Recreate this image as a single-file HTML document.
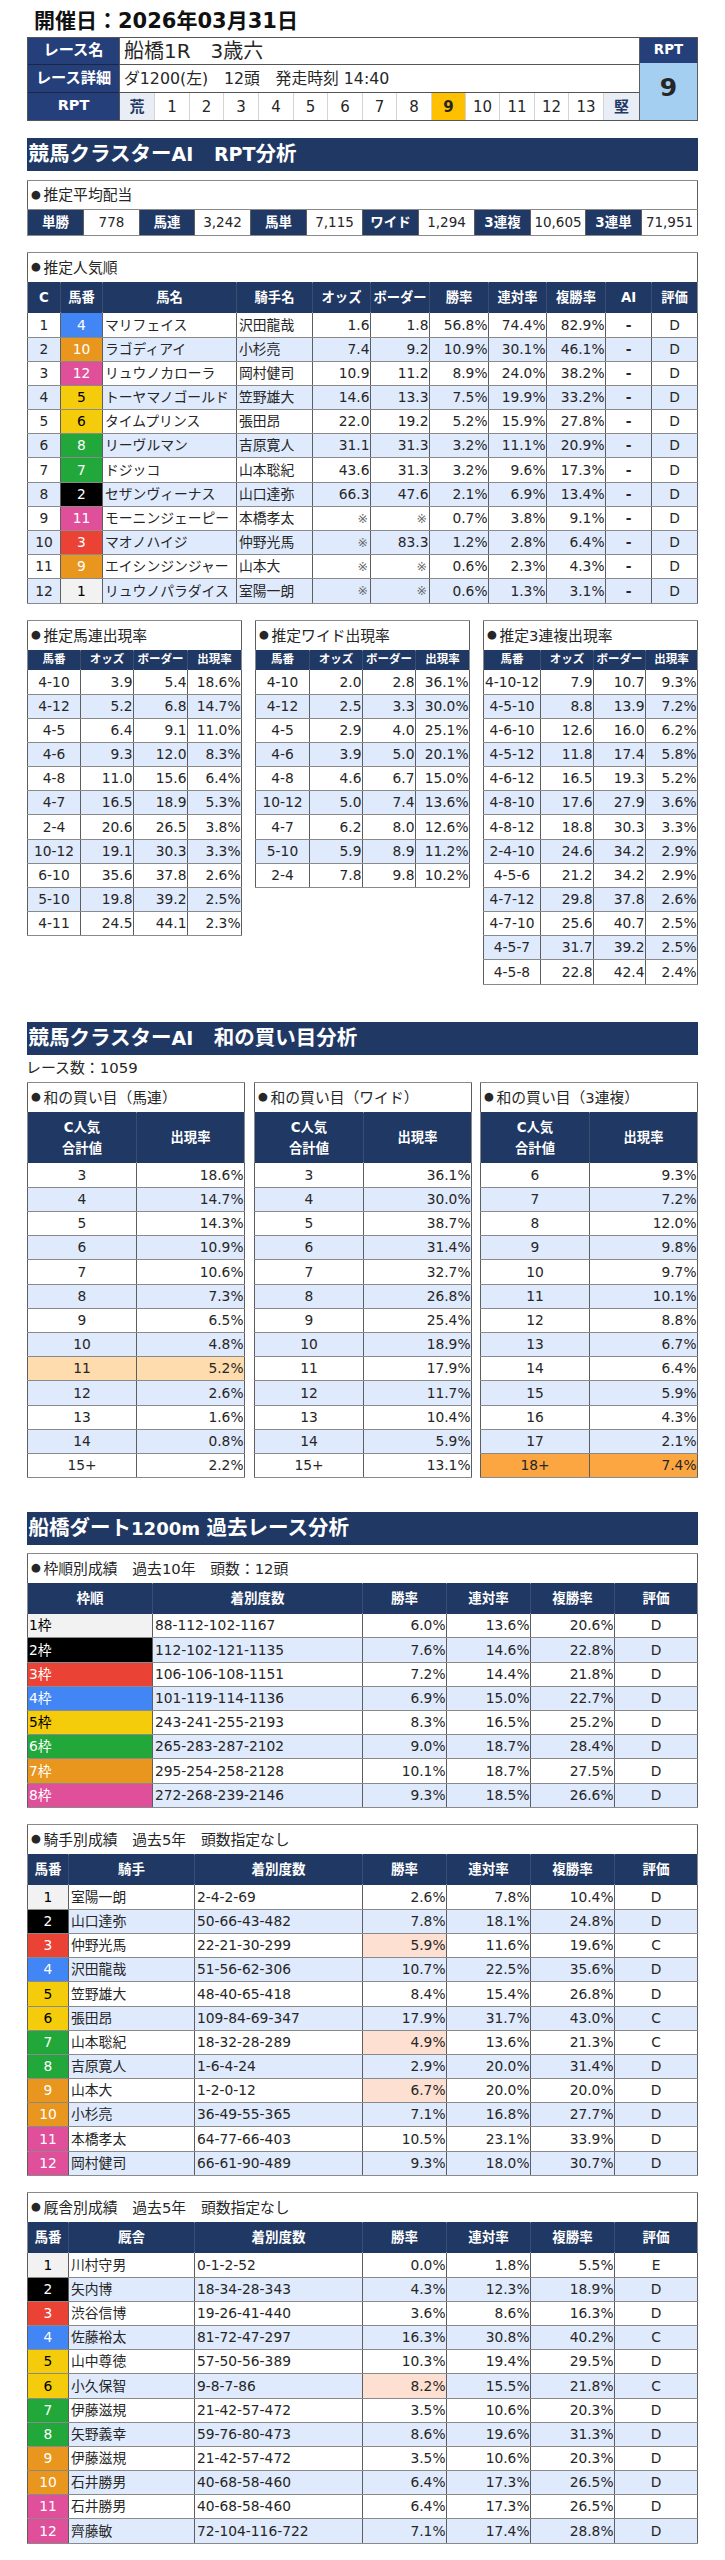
<!DOCTYPE html>
<html lang="ja"><head><meta charset="utf-8"><title>RPT</title>
<style>
html,body{margin:0;padding:0;background:#fff;}
body{width:725px;height:2560px;position:relative;overflow:hidden;font-family:"DejaVu Sans","Liberation Sans","Noto Sans CJK JP",sans-serif;font-size:13.8px;color:#262626;}
.g{position:absolute;display:grid;background:#8a8a8a;padding:1px;gap:1px;box-sizing:content-box;}
.g>div{display:flex;align-items:center;overflow:hidden;white-space:nowrap;line-height:1;box-sizing:border-box;min-width:0;padding-top:1px;}
.g>div:not(.hd):not(.hd2):not(.rp){box-shadow:-1px 0 0 0 #5e5e5e,1px 0 0 0 #5e5e5e;}
.c{justify-content:center;text-align:center;}
.l{justify-content:flex-start;padding-left:2px;}
.r{justify-content:flex-end;padding-right:0.5px;}
.w{background:#fff;}
.b{background:#dfeafc;}
.t{padding-left:3px;font-size:14.8px;}
.bl{display:inline-block;width:12.5px;font-size:11.4px;text-align:left;vertical-align:2.5px;}
.hd{background:#1f3864;color:#fff;font-weight:bold;overflow:visible!important;padding-top:0!important;}
.hd2{background:#243f7a;color:#fff;font-weight:bold;font-size:15.2px;padding-top:0!important;}
.hd{box-shadow:0 1px 0 0 #1f3864,0 -1px 0 0 #1f3864;}
.hs{box-shadow:0 1px 0 0 #1f3864,0 -1px 0 0 #1f3864,1px 0 0 0 #3a4c70;}
.s11{font-size:11.5px;}
.s12{font-size:13.5px;}
.s13{font-size:13.3px;}
.rp{font-size:15px;box-shadow:1px 0 0 0 #d4d4d4;}
.rpe{background:#e9edf6;color:#1f3864;font-weight:bold;}
.rps{background:#ffc000;font-weight:bold;}
.rpv{background:#a4cff0;font-weight:bold;font-size:25px;box-shadow:0 -1px 0 0 #a4cff0;}
.bar{position:absolute;left:27px;width:671px;background:#1f3864;color:#fff;font-weight:bold;font-size:20.5px;line-height:1;display:flex;align-items:center;padding-left:1.5px;box-sizing:border-box;white-space:nowrap;}
.la{font-size:19px;}
.lb{font-size:18.1px;}
.ttl{position:absolute;font-weight:bold;font-size:21px;line-height:30px;white-space:nowrap;color:#111;}
.note{position:absolute;font-size:14.9px;line-height:22px;white-space:nowrap;}
</style></head>
<body>
<div class="ttl" style="left:34px;top:6px;">開催日：2026年03月31日</div>
<div class="g" style="left:27px;top:37px;grid-template-columns:91px 34px 34px 33px 34px 34px 33px 34px 33px 34px 33px 33px 34px 33px 34px 35px 57px;grid-template-rows:26px 27px 27px;background:#555;">
<div class="c hd2" style="grid-column:1;grid-row:1;box-shadow:0 1px 0 0 #1b2545;">レース名</div>
<div class="c hd2" style="grid-column:1;grid-row:2;box-shadow:0 1px 0 0 #1b2545;">レース詳細</div>
<div class="c hd2" style="grid-column:1;grid-row:3;font-size:14.5px;padding-bottom:3px;">RPT</div>
<div class="l w" style="grid-column:2/span 15;grid-row:1/span 1;font-size:20px;padding-left:4px;padding-bottom:2px;">船橋1R　3歳六</div>
<div class="l w" style="grid-column:2/span 15;grid-row:2/span 1;font-size:15.8px;padding-left:4px;padding-bottom:1px;">ダ1200(左)　12頭　発走時刻 14:40</div>
<div class="c rp rpe" style="grid-column:2;grid-row:3;">荒</div>
<div class="c w rp" style="grid-column:3;grid-row:3;">1</div>
<div class="c w rp" style="grid-column:4;grid-row:3;">2</div>
<div class="c w rp" style="grid-column:5;grid-row:3;">3</div>
<div class="c w rp" style="grid-column:6;grid-row:3;">4</div>
<div class="c w rp" style="grid-column:7;grid-row:3;">5</div>
<div class="c w rp" style="grid-column:8;grid-row:3;">6</div>
<div class="c w rp" style="grid-column:9;grid-row:3;">7</div>
<div class="c w rp" style="grid-column:10;grid-row:3;">8</div>
<div class="c rp rps" style="grid-column:11;grid-row:3;">9</div>
<div class="c w rp" style="grid-column:12;grid-row:3;">10</div>
<div class="c w rp" style="grid-column:13;grid-row:3;">11</div>
<div class="c w rp" style="grid-column:14;grid-row:3;">12</div>
<div class="c w rp" style="grid-column:15;grid-row:3;">13</div>
<div class="c rp rpe" style="grid-column:16;grid-row:3;box-shadow:none;">堅</div>
<div class="c hd2" style="grid-column:17;grid-row:1;margin-bottom:1px;padding-bottom:1px;font-size:13.4px;">RPT</div>
<div class="c rpv" style="grid-column:17/span 1;grid-row:2/span 2;margin-top:-2px;padding-bottom:9px;">9</div>
</div>
<div class="bar" style="top:138px;height:33px;"><span>競馬クラスター<span class="la">AI</span>　<span class="la">RPT</span>分析</span></div>
<div class="bar" style="top:1022px;height:33px;"><span>競馬クラスター<span class="la">AI</span>　和の買い目分析</span></div>
<div class="bar" style="top:1512px;height:33px;"><span>船橋ダート<span class="lb">1200m </span>過去レース分析</span></div>
<div class="note" style="left:26px;top:1057px;">レース数：1059</div>
<div class="g" style="left:27px;top:180px;grid-template-columns:55px 55px 54px 55px 55px 55px 55px 55px 55px 54px 55px 55px;grid-template-rows:28px 25px;">
<div class="l w t" style="grid-column:1/span 12;grid-row:1/span 1;"><span><span class="bl">●</span>推定平均配当</span></div>
<div class="c hd s12" style="grid-column:1;grid-row:2;box-shadow:none;">単勝</div>
<div class="c w" style="grid-column:2;grid-row:2;font-size:13.5px;">778</div>
<div class="c hd s12" style="grid-column:3;grid-row:2;box-shadow:none;">馬連</div>
<div class="c w" style="grid-column:4;grid-row:2;font-size:13.5px;">3,242</div>
<div class="c hd s12" style="grid-column:5;grid-row:2;box-shadow:none;">馬単</div>
<div class="c w" style="grid-column:6;grid-row:2;font-size:13.5px;">7,115</div>
<div class="c hd s12" style="grid-column:7;grid-row:2;box-shadow:none;">ワイド</div>
<div class="c w" style="grid-column:8;grid-row:2;font-size:13.5px;">1,294</div>
<div class="c hd s12" style="grid-column:9;grid-row:2;box-shadow:none;">3連複</div>
<div class="c w" style="grid-column:10;grid-row:2;font-size:13.5px;">10,605</div>
<div class="c hd s12" style="grid-column:11;grid-row:2;box-shadow:none;">3連単</div>
<div class="c w" style="grid-column:12;grid-row:2;font-size:13.5px;">71,951</div>
</div>
<div class="g" style="left:27px;top:252px;grid-template-columns:32px 41px 133px 75px 57px 58px 58px 57px 58px 45px 45px;grid-template-rows:29px 29px 24px 23px 23px 23px 23px 23px 24px 23px 23px 23px 23px 24px;">
<div class="l w t" style="grid-column:1/span 11;grid-row:1/span 1;"><span><span class="bl">●</span>推定人気順</span></div>
<div class="c hd s13 hs" style="grid-column:1;grid-row:2;">C</div>
<div class="c hd s13 hs" style="grid-column:2;grid-row:2;">馬番</div>
<div class="c hd s13 hs" style="grid-column:3;grid-row:2;">馬名</div>
<div class="c hd s13 hs" style="grid-column:4;grid-row:2;">騎手名</div>
<div class="c hd s13 hs" style="grid-column:5;grid-row:2;">オッズ</div>
<div class="c hd s13 hs" style="grid-column:6;grid-row:2;">ボーダー</div>
<div class="c hd s13 hs" style="grid-column:7;grid-row:2;">勝率</div>
<div class="c hd s13 hs" style="grid-column:8;grid-row:2;">連対率</div>
<div class="c hd s13 hs" style="grid-column:9;grid-row:2;">複勝率</div>
<div class="c hd s13 hs" style="grid-column:10;grid-row:2;">AI</div>
<div class="c hd s13" style="grid-column:11;grid-row:2;">評価</div>
<div class="c w" style="grid-column:1;grid-row:3;">1</div>
<div class="c" style="grid-column:2;grid-row:3;background:#4285f4;color:#fff;">4</div>
<div class="l w" style="grid-column:3;grid-row:3;">マリフェイス</div>
<div class="l w" style="grid-column:4;grid-row:3;">沢田龍哉</div>
<div class="r w" style="grid-column:5;grid-row:3;">1.6</div>
<div class="r w" style="grid-column:6;grid-row:3;">1.8</div>
<div class="r w" style="grid-column:7;grid-row:3;">56.8%</div>
<div class="r w" style="grid-column:8;grid-row:3;">74.4%</div>
<div class="r w" style="grid-column:9;grid-row:3;">82.9%</div>
<div class="c w" style="grid-column:10;grid-row:3;font-weight:bold;">-</div>
<div class="c w" style="grid-column:11;grid-row:3;">D</div>
<div class="c b" style="grid-column:1;grid-row:4;">2</div>
<div class="c" style="grid-column:2;grid-row:4;background:#e8961e;color:#fff;">10</div>
<div class="l b" style="grid-column:3;grid-row:4;">ラゴディアイ</div>
<div class="l b" style="grid-column:4;grid-row:4;">小杉亮</div>
<div class="r b" style="grid-column:5;grid-row:4;">7.4</div>
<div class="r b" style="grid-column:6;grid-row:4;">9.2</div>
<div class="r b" style="grid-column:7;grid-row:4;">10.9%</div>
<div class="r b" style="grid-column:8;grid-row:4;">30.1%</div>
<div class="r b" style="grid-column:9;grid-row:4;">46.1%</div>
<div class="c b" style="grid-column:10;grid-row:4;font-weight:bold;">-</div>
<div class="c b" style="grid-column:11;grid-row:4;">D</div>
<div class="c w" style="grid-column:1;grid-row:5;">3</div>
<div class="c" style="grid-column:2;grid-row:5;background:#e0509a;color:#fff;">12</div>
<div class="l w" style="grid-column:3;grid-row:5;">リュウノカローラ</div>
<div class="l w" style="grid-column:4;grid-row:5;">岡村健司</div>
<div class="r w" style="grid-column:5;grid-row:5;">10.9</div>
<div class="r w" style="grid-column:6;grid-row:5;">11.2</div>
<div class="r w" style="grid-column:7;grid-row:5;">8.9%</div>
<div class="r w" style="grid-column:8;grid-row:5;">24.0%</div>
<div class="r w" style="grid-column:9;grid-row:5;">38.2%</div>
<div class="c w" style="grid-column:10;grid-row:5;font-weight:bold;">-</div>
<div class="c w" style="grid-column:11;grid-row:5;">D</div>
<div class="c b" style="grid-column:1;grid-row:6;">4</div>
<div class="c" style="grid-column:2;grid-row:6;background:#f4cc0c;color:#000;">5</div>
<div class="l b" style="grid-column:3;grid-row:6;">トーヤマノゴールド</div>
<div class="l b" style="grid-column:4;grid-row:6;">笠野雄大</div>
<div class="r b" style="grid-column:5;grid-row:6;">14.6</div>
<div class="r b" style="grid-column:6;grid-row:6;">13.3</div>
<div class="r b" style="grid-column:7;grid-row:6;">7.5%</div>
<div class="r b" style="grid-column:8;grid-row:6;">19.9%</div>
<div class="r b" style="grid-column:9;grid-row:6;">33.2%</div>
<div class="c b" style="grid-column:10;grid-row:6;font-weight:bold;">-</div>
<div class="c b" style="grid-column:11;grid-row:6;">D</div>
<div class="c w" style="grid-column:1;grid-row:7;">5</div>
<div class="c" style="grid-column:2;grid-row:7;background:#f4cc0c;color:#000;">6</div>
<div class="l w" style="grid-column:3;grid-row:7;">タイムプリンス</div>
<div class="l w" style="grid-column:4;grid-row:7;">張田昂</div>
<div class="r w" style="grid-column:5;grid-row:7;">22.0</div>
<div class="r w" style="grid-column:6;grid-row:7;">19.2</div>
<div class="r w" style="grid-column:7;grid-row:7;">5.2%</div>
<div class="r w" style="grid-column:8;grid-row:7;">15.9%</div>
<div class="r w" style="grid-column:9;grid-row:7;">27.8%</div>
<div class="c w" style="grid-column:10;grid-row:7;font-weight:bold;">-</div>
<div class="c w" style="grid-column:11;grid-row:7;">D</div>
<div class="c b" style="grid-column:1;grid-row:8;">6</div>
<div class="c" style="grid-column:2;grid-row:8;background:#22a83a;color:#fff;">8</div>
<div class="l b" style="grid-column:3;grid-row:8;">リーヴルマン</div>
<div class="l b" style="grid-column:4;grid-row:8;">吉原寛人</div>
<div class="r b" style="grid-column:5;grid-row:8;">31.1</div>
<div class="r b" style="grid-column:6;grid-row:8;">31.3</div>
<div class="r b" style="grid-column:7;grid-row:8;">3.2%</div>
<div class="r b" style="grid-column:8;grid-row:8;">11.1%</div>
<div class="r b" style="grid-column:9;grid-row:8;">20.9%</div>
<div class="c b" style="grid-column:10;grid-row:8;font-weight:bold;">-</div>
<div class="c b" style="grid-column:11;grid-row:8;">D</div>
<div class="c w" style="grid-column:1;grid-row:9;">7</div>
<div class="c" style="grid-column:2;grid-row:9;background:#22a83a;color:#fff;">7</div>
<div class="l w" style="grid-column:3;grid-row:9;">ドジッコ</div>
<div class="l w" style="grid-column:4;grid-row:9;">山本聡紀</div>
<div class="r w" style="grid-column:5;grid-row:9;">43.6</div>
<div class="r w" style="grid-column:6;grid-row:9;">31.3</div>
<div class="r w" style="grid-column:7;grid-row:9;">3.2%</div>
<div class="r w" style="grid-column:8;grid-row:9;">9.6%</div>
<div class="r w" style="grid-column:9;grid-row:9;">17.3%</div>
<div class="c w" style="grid-column:10;grid-row:9;font-weight:bold;">-</div>
<div class="c w" style="grid-column:11;grid-row:9;">D</div>
<div class="c b" style="grid-column:1;grid-row:10;">8</div>
<div class="c" style="grid-column:2;grid-row:10;background:#000;color:#fff;">2</div>
<div class="l b" style="grid-column:3;grid-row:10;">セザンヴィーナス</div>
<div class="l b" style="grid-column:4;grid-row:10;">山口達弥</div>
<div class="r b" style="grid-column:5;grid-row:10;">66.3</div>
<div class="r b" style="grid-column:6;grid-row:10;">47.6</div>
<div class="r b" style="grid-column:7;grid-row:10;">2.1%</div>
<div class="r b" style="grid-column:8;grid-row:10;">6.9%</div>
<div class="r b" style="grid-column:9;grid-row:10;">13.4%</div>
<div class="c b" style="grid-column:10;grid-row:10;font-weight:bold;">-</div>
<div class="c b" style="grid-column:11;grid-row:10;">D</div>
<div class="c w" style="grid-column:1;grid-row:11;">9</div>
<div class="c" style="grid-column:2;grid-row:11;background:#e0509a;color:#fff;">11</div>
<div class="l w" style="grid-column:3;grid-row:11;">モーニンジェーピー</div>
<div class="l w" style="grid-column:4;grid-row:11;">本橋孝太</div>
<div class="r w" style="grid-column:5;grid-row:11;color:#6a6a6a;font-size:12.5px;padding-right:2px;">※</div>
<div class="r w" style="grid-column:6;grid-row:11;color:#6a6a6a;font-size:12.5px;padding-right:2px;">※</div>
<div class="r w" style="grid-column:7;grid-row:11;">0.7%</div>
<div class="r w" style="grid-column:8;grid-row:11;">3.8%</div>
<div class="r w" style="grid-column:9;grid-row:11;">9.1%</div>
<div class="c w" style="grid-column:10;grid-row:11;font-weight:bold;">-</div>
<div class="c w" style="grid-column:11;grid-row:11;">D</div>
<div class="c b" style="grid-column:1;grid-row:12;">10</div>
<div class="c" style="grid-column:2;grid-row:12;background:#ea4335;color:#fff;">3</div>
<div class="l b" style="grid-column:3;grid-row:12;">マオノハイジ</div>
<div class="l b" style="grid-column:4;grid-row:12;">仲野光馬</div>
<div class="r b" style="grid-column:5;grid-row:12;color:#6a6a6a;font-size:12.5px;padding-right:2px;">※</div>
<div class="r b" style="grid-column:6;grid-row:12;">83.3</div>
<div class="r b" style="grid-column:7;grid-row:12;">1.2%</div>
<div class="r b" style="grid-column:8;grid-row:12;">2.8%</div>
<div class="r b" style="grid-column:9;grid-row:12;">6.4%</div>
<div class="c b" style="grid-column:10;grid-row:12;font-weight:bold;">-</div>
<div class="c b" style="grid-column:11;grid-row:12;">D</div>
<div class="c w" style="grid-column:1;grid-row:13;">11</div>
<div class="c" style="grid-column:2;grid-row:13;background:#e8961e;color:#fff;">9</div>
<div class="l w" style="grid-column:3;grid-row:13;">エイシンジンジャー</div>
<div class="l w" style="grid-column:4;grid-row:13;">山本大</div>
<div class="r w" style="grid-column:5;grid-row:13;color:#6a6a6a;font-size:12.5px;padding-right:2px;">※</div>
<div class="r w" style="grid-column:6;grid-row:13;color:#6a6a6a;font-size:12.5px;padding-right:2px;">※</div>
<div class="r w" style="grid-column:7;grid-row:13;">0.6%</div>
<div class="r w" style="grid-column:8;grid-row:13;">2.3%</div>
<div class="r w" style="grid-column:9;grid-row:13;">4.3%</div>
<div class="c w" style="grid-column:10;grid-row:13;font-weight:bold;">-</div>
<div class="c w" style="grid-column:11;grid-row:13;">D</div>
<div class="c b" style="grid-column:1;grid-row:14;">12</div>
<div class="c" style="grid-column:2;grid-row:14;background:#f2f2f2;color:#000;">1</div>
<div class="l b" style="grid-column:3;grid-row:14;">リュウノパラダイス</div>
<div class="l b" style="grid-column:4;grid-row:14;">室陽一朗</div>
<div class="r b" style="grid-column:5;grid-row:14;color:#6a6a6a;font-size:12.5px;padding-right:2px;">※</div>
<div class="r b" style="grid-column:6;grid-row:14;color:#6a6a6a;font-size:12.5px;padding-right:2px;">※</div>
<div class="r b" style="grid-column:7;grid-row:14;">0.6%</div>
<div class="r b" style="grid-column:8;grid-row:14;">1.3%</div>
<div class="r b" style="grid-column:9;grid-row:14;">3.1%</div>
<div class="c b" style="grid-column:10;grid-row:14;font-weight:bold;">-</div>
<div class="c b" style="grid-column:11;grid-row:14;">D</div>
</div>
<div class="g" style="left:27px;top:620px;grid-template-columns:52px 52px 53px 53px;grid-template-rows:29px 18px 24px 23px 23px 23px 23px 23px 24px 23px 23px 23px 23px;">
<div class="l w t" style="grid-column:1/span 4;grid-row:1/span 1;"><span><span class="bl">●</span>推定馬連出現率</span></div>
<div class="c hd s11 hs" style="grid-column:1;grid-row:2;">馬番</div>
<div class="c hd s11 hs" style="grid-column:2;grid-row:2;">オッズ</div>
<div class="c hd s11 hs" style="grid-column:3;grid-row:2;">ボーダー</div>
<div class="c hd s11" style="grid-column:4;grid-row:2;">出現率</div>
<div class="c w" style="grid-column:1;grid-row:3;">4-10</div>
<div class="r w" style="grid-column:2;grid-row:3;">3.9</div>
<div class="r w" style="grid-column:3;grid-row:3;">5.4</div>
<div class="r w" style="grid-column:4;grid-row:3;">18.6%</div>
<div class="c b" style="grid-column:1;grid-row:4;">4-12</div>
<div class="r b" style="grid-column:2;grid-row:4;">5.2</div>
<div class="r b" style="grid-column:3;grid-row:4;">6.8</div>
<div class="r b" style="grid-column:4;grid-row:4;">14.7%</div>
<div class="c w" style="grid-column:1;grid-row:5;">4-5</div>
<div class="r w" style="grid-column:2;grid-row:5;">6.4</div>
<div class="r w" style="grid-column:3;grid-row:5;">9.1</div>
<div class="r w" style="grid-column:4;grid-row:5;">11.0%</div>
<div class="c b" style="grid-column:1;grid-row:6;">4-6</div>
<div class="r b" style="grid-column:2;grid-row:6;">9.3</div>
<div class="r b" style="grid-column:3;grid-row:6;">12.0</div>
<div class="r b" style="grid-column:4;grid-row:6;">8.3%</div>
<div class="c w" style="grid-column:1;grid-row:7;">4-8</div>
<div class="r w" style="grid-column:2;grid-row:7;">11.0</div>
<div class="r w" style="grid-column:3;grid-row:7;">15.6</div>
<div class="r w" style="grid-column:4;grid-row:7;">6.4%</div>
<div class="c b" style="grid-column:1;grid-row:8;">4-7</div>
<div class="r b" style="grid-column:2;grid-row:8;">16.5</div>
<div class="r b" style="grid-column:3;grid-row:8;">18.9</div>
<div class="r b" style="grid-column:4;grid-row:8;">5.3%</div>
<div class="c w" style="grid-column:1;grid-row:9;">2-4</div>
<div class="r w" style="grid-column:2;grid-row:9;">20.6</div>
<div class="r w" style="grid-column:3;grid-row:9;">26.5</div>
<div class="r w" style="grid-column:4;grid-row:9;">3.8%</div>
<div class="c b" style="grid-column:1;grid-row:10;">10-12</div>
<div class="r b" style="grid-column:2;grid-row:10;">19.1</div>
<div class="r b" style="grid-column:3;grid-row:10;">30.3</div>
<div class="r b" style="grid-column:4;grid-row:10;">3.3%</div>
<div class="c w" style="grid-column:1;grid-row:11;">6-10</div>
<div class="r w" style="grid-column:2;grid-row:11;">35.6</div>
<div class="r w" style="grid-column:3;grid-row:11;">37.8</div>
<div class="r w" style="grid-column:4;grid-row:11;">2.6%</div>
<div class="c b" style="grid-column:1;grid-row:12;">5-10</div>
<div class="r b" style="grid-column:2;grid-row:12;">19.8</div>
<div class="r b" style="grid-column:3;grid-row:12;">39.2</div>
<div class="r b" style="grid-column:4;grid-row:12;">2.5%</div>
<div class="c w" style="grid-column:1;grid-row:13;">4-11</div>
<div class="r w" style="grid-column:2;grid-row:13;">24.5</div>
<div class="r w" style="grid-column:3;grid-row:13;">44.1</div>
<div class="r w" style="grid-column:4;grid-row:13;">2.3%</div>
</div>
<div class="g" style="left:255px;top:620px;grid-template-columns:53px 52px 52px 53px;grid-template-rows:29px 18px 24px 23px 23px 23px 23px 23px 24px 23px 23px;">
<div class="l w t" style="grid-column:1/span 4;grid-row:1/span 1;"><span><span class="bl">●</span>推定ワイド出現率</span></div>
<div class="c hd s11 hs" style="grid-column:1;grid-row:2;">馬番</div>
<div class="c hd s11 hs" style="grid-column:2;grid-row:2;">オッズ</div>
<div class="c hd s11 hs" style="grid-column:3;grid-row:2;">ボーダー</div>
<div class="c hd s11" style="grid-column:4;grid-row:2;">出現率</div>
<div class="c w" style="grid-column:1;grid-row:3;">4-10</div>
<div class="r w" style="grid-column:2;grid-row:3;">2.0</div>
<div class="r w" style="grid-column:3;grid-row:3;">2.8</div>
<div class="r w" style="grid-column:4;grid-row:3;">36.1%</div>
<div class="c b" style="grid-column:1;grid-row:4;">4-12</div>
<div class="r b" style="grid-column:2;grid-row:4;">2.5</div>
<div class="r b" style="grid-column:3;grid-row:4;">3.3</div>
<div class="r b" style="grid-column:4;grid-row:4;">30.0%</div>
<div class="c w" style="grid-column:1;grid-row:5;">4-5</div>
<div class="r w" style="grid-column:2;grid-row:5;">2.9</div>
<div class="r w" style="grid-column:3;grid-row:5;">4.0</div>
<div class="r w" style="grid-column:4;grid-row:5;">25.1%</div>
<div class="c b" style="grid-column:1;grid-row:6;">4-6</div>
<div class="r b" style="grid-column:2;grid-row:6;">3.9</div>
<div class="r b" style="grid-column:3;grid-row:6;">5.0</div>
<div class="r b" style="grid-column:4;grid-row:6;">20.1%</div>
<div class="c w" style="grid-column:1;grid-row:7;">4-8</div>
<div class="r w" style="grid-column:2;grid-row:7;">4.6</div>
<div class="r w" style="grid-column:3;grid-row:7;">6.7</div>
<div class="r w" style="grid-column:4;grid-row:7;">15.0%</div>
<div class="c b" style="grid-column:1;grid-row:8;">10-12</div>
<div class="r b" style="grid-column:2;grid-row:8;">5.0</div>
<div class="r b" style="grid-column:3;grid-row:8;">7.4</div>
<div class="r b" style="grid-column:4;grid-row:8;">13.6%</div>
<div class="c w" style="grid-column:1;grid-row:9;">4-7</div>
<div class="r w" style="grid-column:2;grid-row:9;">6.2</div>
<div class="r w" style="grid-column:3;grid-row:9;">8.0</div>
<div class="r w" style="grid-column:4;grid-row:9;">12.6%</div>
<div class="c b" style="grid-column:1;grid-row:10;">5-10</div>
<div class="r b" style="grid-column:2;grid-row:10;">5.9</div>
<div class="r b" style="grid-column:3;grid-row:10;">8.9</div>
<div class="r b" style="grid-column:4;grid-row:10;">11.2%</div>
<div class="c w" style="grid-column:1;grid-row:11;">2-4</div>
<div class="r w" style="grid-column:2;grid-row:11;">7.8</div>
<div class="r w" style="grid-column:3;grid-row:11;">9.8</div>
<div class="r w" style="grid-column:4;grid-row:11;">10.2%</div>
</div>
<div class="g" style="left:483px;top:620px;grid-template-columns:56px 52px 51px 51px;grid-template-rows:29px 18px 24px 23px 23px 23px 23px 23px 24px 23px 23px 23px 23px 23px 24px;">
<div class="l w t" style="grid-column:1/span 4;grid-row:1/span 1;"><span><span class="bl">●</span>推定3連複出現率</span></div>
<div class="c hd s11 hs" style="grid-column:1;grid-row:2;">馬番</div>
<div class="c hd s11 hs" style="grid-column:2;grid-row:2;">オッズ</div>
<div class="c hd s11 hs" style="grid-column:3;grid-row:2;">ボーダー</div>
<div class="c hd s11" style="grid-column:4;grid-row:2;">出現率</div>
<div class="c w" style="grid-column:1;grid-row:3;">4-10-12</div>
<div class="r w" style="grid-column:2;grid-row:3;">7.9</div>
<div class="r w" style="grid-column:3;grid-row:3;">10.7</div>
<div class="r w" style="grid-column:4;grid-row:3;">9.3%</div>
<div class="c b" style="grid-column:1;grid-row:4;">4-5-10</div>
<div class="r b" style="grid-column:2;grid-row:4;">8.8</div>
<div class="r b" style="grid-column:3;grid-row:4;">13.9</div>
<div class="r b" style="grid-column:4;grid-row:4;">7.2%</div>
<div class="c w" style="grid-column:1;grid-row:5;">4-6-10</div>
<div class="r w" style="grid-column:2;grid-row:5;">12.6</div>
<div class="r w" style="grid-column:3;grid-row:5;">16.0</div>
<div class="r w" style="grid-column:4;grid-row:5;">6.2%</div>
<div class="c b" style="grid-column:1;grid-row:6;">4-5-12</div>
<div class="r b" style="grid-column:2;grid-row:6;">11.8</div>
<div class="r b" style="grid-column:3;grid-row:6;">17.4</div>
<div class="r b" style="grid-column:4;grid-row:6;">5.8%</div>
<div class="c w" style="grid-column:1;grid-row:7;">4-6-12</div>
<div class="r w" style="grid-column:2;grid-row:7;">16.5</div>
<div class="r w" style="grid-column:3;grid-row:7;">19.3</div>
<div class="r w" style="grid-column:4;grid-row:7;">5.2%</div>
<div class="c b" style="grid-column:1;grid-row:8;">4-8-10</div>
<div class="r b" style="grid-column:2;grid-row:8;">17.6</div>
<div class="r b" style="grid-column:3;grid-row:8;">27.9</div>
<div class="r b" style="grid-column:4;grid-row:8;">3.6%</div>
<div class="c w" style="grid-column:1;grid-row:9;">4-8-12</div>
<div class="r w" style="grid-column:2;grid-row:9;">18.8</div>
<div class="r w" style="grid-column:3;grid-row:9;">30.3</div>
<div class="r w" style="grid-column:4;grid-row:9;">3.3%</div>
<div class="c b" style="grid-column:1;grid-row:10;">2-4-10</div>
<div class="r b" style="grid-column:2;grid-row:10;">24.6</div>
<div class="r b" style="grid-column:3;grid-row:10;">34.2</div>
<div class="r b" style="grid-column:4;grid-row:10;">2.9%</div>
<div class="c w" style="grid-column:1;grid-row:11;">4-5-6</div>
<div class="r w" style="grid-column:2;grid-row:11;">21.2</div>
<div class="r w" style="grid-column:3;grid-row:11;">34.2</div>
<div class="r w" style="grid-column:4;grid-row:11;">2.9%</div>
<div class="c b" style="grid-column:1;grid-row:12;">4-7-12</div>
<div class="r b" style="grid-column:2;grid-row:12;">29.8</div>
<div class="r b" style="grid-column:3;grid-row:12;">37.8</div>
<div class="r b" style="grid-column:4;grid-row:12;">2.6%</div>
<div class="c w" style="grid-column:1;grid-row:13;">4-7-10</div>
<div class="r w" style="grid-column:2;grid-row:13;">25.6</div>
<div class="r w" style="grid-column:3;grid-row:13;">40.7</div>
<div class="r w" style="grid-column:4;grid-row:13;">2.5%</div>
<div class="c b" style="grid-column:1;grid-row:14;">4-5-7</div>
<div class="r b" style="grid-column:2;grid-row:14;">31.7</div>
<div class="r b" style="grid-column:3;grid-row:14;">39.2</div>
<div class="r b" style="grid-column:4;grid-row:14;">2.5%</div>
<div class="c w" style="grid-column:1;grid-row:15;">4-5-8</div>
<div class="r w" style="grid-column:2;grid-row:15;">22.8</div>
<div class="r w" style="grid-column:3;grid-row:15;">42.4</div>
<div class="r w" style="grid-column:4;grid-row:15;">2.4%</div>
</div>
<div class="g" style="left:27px;top:1082px;grid-template-columns:108px 107px;grid-template-rows:29px 49px 24px 23px 23px 23px 24px 23px 23px 23px 23px 24px 23px 23px 23px;">
<div class="l w t" style="grid-column:1/span 2;grid-row:1/span 1;"><span><span class="bl">●</span>和の買い目（馬連）</span></div>
<div class="c hd s13 hs" style="grid-column:1;grid-row:2;line-height:21px;"><span>C人気<br>合計値</span></div>
<div class="c hd s13" style="grid-column:2;grid-row:2;">出現率</div>
<div class="c w" style="grid-column:1;grid-row:3;">3</div>
<div class="r w" style="grid-column:2;grid-row:3;">18.6%</div>
<div class="c b" style="grid-column:1;grid-row:4;">4</div>
<div class="r b" style="grid-column:2;grid-row:4;">14.7%</div>
<div class="c w" style="grid-column:1;grid-row:5;">5</div>
<div class="r w" style="grid-column:2;grid-row:5;">14.3%</div>
<div class="c b" style="grid-column:1;grid-row:6;">6</div>
<div class="r b" style="grid-column:2;grid-row:6;">10.9%</div>
<div class="c w" style="grid-column:1;grid-row:7;">7</div>
<div class="r w" style="grid-column:2;grid-row:7;">10.6%</div>
<div class="c b" style="grid-column:1;grid-row:8;">8</div>
<div class="r b" style="grid-column:2;grid-row:8;">7.3%</div>
<div class="c w" style="grid-column:1;grid-row:9;">9</div>
<div class="r w" style="grid-column:2;grid-row:9;">6.5%</div>
<div class="c b" style="grid-column:1;grid-row:10;">10</div>
<div class="r b" style="grid-column:2;grid-row:10;">4.8%</div>
<div class="c w" style="grid-column:1;grid-row:11;background:#fedcae;">11</div>
<div class="r w" style="grid-column:2;grid-row:11;background:#fedcae;">5.2%</div>
<div class="c b" style="grid-column:1;grid-row:12;">12</div>
<div class="r b" style="grid-column:2;grid-row:12;">2.6%</div>
<div class="c w" style="grid-column:1;grid-row:13;">13</div>
<div class="r w" style="grid-column:2;grid-row:13;">1.6%</div>
<div class="c b" style="grid-column:1;grid-row:14;">14</div>
<div class="r b" style="grid-column:2;grid-row:14;">0.8%</div>
<div class="c w" style="grid-column:1;grid-row:15;">15+</div>
<div class="r w" style="grid-column:2;grid-row:15;">2.2%</div>
</div>
<div class="g" style="left:254px;top:1082px;grid-template-columns:108px 107px;grid-template-rows:29px 49px 24px 23px 23px 23px 24px 23px 23px 23px 23px 24px 23px 23px 23px;">
<div class="l w t" style="grid-column:1/span 2;grid-row:1/span 1;"><span><span class="bl">●</span>和の買い目（ワイド）</span></div>
<div class="c hd s13 hs" style="grid-column:1;grid-row:2;line-height:21px;"><span>C人気<br>合計値</span></div>
<div class="c hd s13" style="grid-column:2;grid-row:2;">出現率</div>
<div class="c w" style="grid-column:1;grid-row:3;">3</div>
<div class="r w" style="grid-column:2;grid-row:3;">36.1%</div>
<div class="c b" style="grid-column:1;grid-row:4;">4</div>
<div class="r b" style="grid-column:2;grid-row:4;">30.0%</div>
<div class="c w" style="grid-column:1;grid-row:5;">5</div>
<div class="r w" style="grid-column:2;grid-row:5;">38.7%</div>
<div class="c b" style="grid-column:1;grid-row:6;">6</div>
<div class="r b" style="grid-column:2;grid-row:6;">31.4%</div>
<div class="c w" style="grid-column:1;grid-row:7;">7</div>
<div class="r w" style="grid-column:2;grid-row:7;">32.7%</div>
<div class="c b" style="grid-column:1;grid-row:8;">8</div>
<div class="r b" style="grid-column:2;grid-row:8;">26.8%</div>
<div class="c w" style="grid-column:1;grid-row:9;">9</div>
<div class="r w" style="grid-column:2;grid-row:9;">25.4%</div>
<div class="c b" style="grid-column:1;grid-row:10;">10</div>
<div class="r b" style="grid-column:2;grid-row:10;">18.9%</div>
<div class="c w" style="grid-column:1;grid-row:11;">11</div>
<div class="r w" style="grid-column:2;grid-row:11;">17.9%</div>
<div class="c b" style="grid-column:1;grid-row:12;">12</div>
<div class="r b" style="grid-column:2;grid-row:12;">11.7%</div>
<div class="c w" style="grid-column:1;grid-row:13;">13</div>
<div class="r w" style="grid-column:2;grid-row:13;">10.4%</div>
<div class="c b" style="grid-column:1;grid-row:14;">14</div>
<div class="r b" style="grid-column:2;grid-row:14;">5.9%</div>
<div class="c w" style="grid-column:1;grid-row:15;">15+</div>
<div class="r w" style="grid-column:2;grid-row:15;">13.1%</div>
</div>
<div class="g" style="left:480px;top:1082px;grid-template-columns:108px 107px;grid-template-rows:29px 49px 24px 23px 23px 23px 24px 23px 23px 23px 23px 24px 23px 23px 23px;">
<div class="l w t" style="grid-column:1/span 2;grid-row:1/span 1;"><span><span class="bl">●</span>和の買い目（3連複）</span></div>
<div class="c hd s13 hs" style="grid-column:1;grid-row:2;line-height:21px;"><span>C人気<br>合計値</span></div>
<div class="c hd s13" style="grid-column:2;grid-row:2;">出現率</div>
<div class="c w" style="grid-column:1;grid-row:3;">6</div>
<div class="r w" style="grid-column:2;grid-row:3;">9.3%</div>
<div class="c b" style="grid-column:1;grid-row:4;">7</div>
<div class="r b" style="grid-column:2;grid-row:4;">7.2%</div>
<div class="c w" style="grid-column:1;grid-row:5;">8</div>
<div class="r w" style="grid-column:2;grid-row:5;">12.0%</div>
<div class="c b" style="grid-column:1;grid-row:6;">9</div>
<div class="r b" style="grid-column:2;grid-row:6;">9.8%</div>
<div class="c w" style="grid-column:1;grid-row:7;">10</div>
<div class="r w" style="grid-column:2;grid-row:7;">9.7%</div>
<div class="c b" style="grid-column:1;grid-row:8;">11</div>
<div class="r b" style="grid-column:2;grid-row:8;">10.1%</div>
<div class="c w" style="grid-column:1;grid-row:9;">12</div>
<div class="r w" style="grid-column:2;grid-row:9;">8.8%</div>
<div class="c b" style="grid-column:1;grid-row:10;">13</div>
<div class="r b" style="grid-column:2;grid-row:10;">6.7%</div>
<div class="c w" style="grid-column:1;grid-row:11;">14</div>
<div class="r w" style="grid-column:2;grid-row:11;">6.4%</div>
<div class="c b" style="grid-column:1;grid-row:12;">15</div>
<div class="r b" style="grid-column:2;grid-row:12;">5.9%</div>
<div class="c w" style="grid-column:1;grid-row:13;">16</div>
<div class="r w" style="grid-column:2;grid-row:13;">4.3%</div>
<div class="c b" style="grid-column:1;grid-row:14;">17</div>
<div class="r b" style="grid-column:2;grid-row:14;">2.1%</div>
<div class="c w" style="grid-column:1;grid-row:15;background:#fba640;">18+</div>
<div class="r w" style="grid-column:2;grid-row:15;background:#fba640;">7.4%</div>
</div>
<div class="g" style="left:27px;top:1553px;grid-template-columns:124px 209px 83px 83px 83px 82px;grid-template-rows:29px 29px 23px 24px 23px 23px 23px 23px 24px 23px;">
<div class="l w t" style="grid-column:1/span 6;grid-row:1/span 1;"><span><span class="bl">●</span>枠順別成績　過去10年　頭数：12頭</span></div>
<div class="c hd s12 hs" style="grid-column:1;grid-row:2;">枠順</div>
<div class="c hd s12 hs" style="grid-column:2;grid-row:2;">着別度数</div>
<div class="c hd s12 hs" style="grid-column:3;grid-row:2;">勝率</div>
<div class="c hd s12 hs" style="grid-column:4;grid-row:2;">連対率</div>
<div class="c hd s12 hs" style="grid-column:5;grid-row:2;">複勝率</div>
<div class="c hd s12" style="grid-column:6;grid-row:2;">評価</div>
<div class="l" style="grid-column:1;grid-row:3;background:#f2f2f2;color:#000;padding-left:1px;">1枠</div>
<div class="l w" style="grid-column:2;grid-row:3;">88-112-102-1167</div>
<div class="r w" style="grid-column:3;grid-row:3;">6.0%</div>
<div class="r w" style="grid-column:4;grid-row:3;">13.6%</div>
<div class="r w" style="grid-column:5;grid-row:3;">20.6%</div>
<div class="c w" style="grid-column:6;grid-row:3;">D</div>
<div class="l" style="grid-column:1;grid-row:4;background:#000;color:#fff;padding-left:1px;">2枠</div>
<div class="l b" style="grid-column:2;grid-row:4;">112-102-121-1135</div>
<div class="r b" style="grid-column:3;grid-row:4;">7.6%</div>
<div class="r b" style="grid-column:4;grid-row:4;">14.6%</div>
<div class="r b" style="grid-column:5;grid-row:4;">22.8%</div>
<div class="c b" style="grid-column:6;grid-row:4;">D</div>
<div class="l" style="grid-column:1;grid-row:5;background:#ea4335;color:#fff;padding-left:1px;">3枠</div>
<div class="l w" style="grid-column:2;grid-row:5;">106-106-108-1151</div>
<div class="r w" style="grid-column:3;grid-row:5;">7.2%</div>
<div class="r w" style="grid-column:4;grid-row:5;">14.4%</div>
<div class="r w" style="grid-column:5;grid-row:5;">21.8%</div>
<div class="c w" style="grid-column:6;grid-row:5;">D</div>
<div class="l" style="grid-column:1;grid-row:6;background:#4285f4;color:#fff;padding-left:1px;">4枠</div>
<div class="l b" style="grid-column:2;grid-row:6;">101-119-114-1136</div>
<div class="r b" style="grid-column:3;grid-row:6;">6.9%</div>
<div class="r b" style="grid-column:4;grid-row:6;">15.0%</div>
<div class="r b" style="grid-column:5;grid-row:6;">22.7%</div>
<div class="c b" style="grid-column:6;grid-row:6;">D</div>
<div class="l" style="grid-column:1;grid-row:7;background:#f4cc0c;color:#000;padding-left:1px;">5枠</div>
<div class="l w" style="grid-column:2;grid-row:7;">243-241-255-2193</div>
<div class="r w" style="grid-column:3;grid-row:7;">8.3%</div>
<div class="r w" style="grid-column:4;grid-row:7;">16.5%</div>
<div class="r w" style="grid-column:5;grid-row:7;">25.2%</div>
<div class="c w" style="grid-column:6;grid-row:7;">D</div>
<div class="l" style="grid-column:1;grid-row:8;background:#22a83a;color:#fff;padding-left:1px;">6枠</div>
<div class="l b" style="grid-column:2;grid-row:8;">265-283-287-2102</div>
<div class="r b" style="grid-column:3;grid-row:8;">9.0%</div>
<div class="r b" style="grid-column:4;grid-row:8;">18.7%</div>
<div class="r b" style="grid-column:5;grid-row:8;">28.4%</div>
<div class="c b" style="grid-column:6;grid-row:8;">D</div>
<div class="l" style="grid-column:1;grid-row:9;background:#e8961e;color:#fff;padding-left:1px;">7枠</div>
<div class="l w" style="grid-column:2;grid-row:9;">295-254-258-2128</div>
<div class="r w" style="grid-column:3;grid-row:9;">10.1%</div>
<div class="r w" style="grid-column:4;grid-row:9;">18.7%</div>
<div class="r w" style="grid-column:5;grid-row:9;">27.5%</div>
<div class="c w" style="grid-column:6;grid-row:9;">D</div>
<div class="l" style="grid-column:1;grid-row:10;background:#e0509a;color:#fff;padding-left:1px;">8枠</div>
<div class="l b" style="grid-column:2;grid-row:10;">272-268-239-2146</div>
<div class="r b" style="grid-column:3;grid-row:10;">9.3%</div>
<div class="r b" style="grid-column:4;grid-row:10;">18.5%</div>
<div class="r b" style="grid-column:5;grid-row:10;">26.6%</div>
<div class="c b" style="grid-column:6;grid-row:10;">D</div>
</div>
<div class="g" style="left:27px;top:1824px;grid-template-columns:40px 125px 167px 83px 83px 83px 82px;grid-template-rows:29px 29px 24px 23px 23px 23px 24px 23px 23px 23px 23px 23px 24px 23px;">
<div class="l w t" style="grid-column:1/span 7;grid-row:1/span 1;"><span><span class="bl">●</span>騎手別成績　過去5年　頭数指定なし</span></div>
<div class="c hd s12 hs" style="grid-column:1;grid-row:2;">馬番</div>
<div class="c hd s12 hs" style="grid-column:2;grid-row:2;">騎手</div>
<div class="c hd s12 hs" style="grid-column:3;grid-row:2;">着別度数</div>
<div class="c hd s12 hs" style="grid-column:4;grid-row:2;">勝率</div>
<div class="c hd s12 hs" style="grid-column:5;grid-row:2;">連対率</div>
<div class="c hd s12 hs" style="grid-column:6;grid-row:2;">複勝率</div>
<div class="c hd s12" style="grid-column:7;grid-row:2;">評価</div>
<div class="c" style="grid-column:1;grid-row:3;background:#f2f2f2;color:#000;">1</div>
<div class="l w" style="grid-column:2;grid-row:3;">室陽一朗</div>
<div class="l w" style="grid-column:3;grid-row:3;">2-4-2-69</div>
<div class="r w" style="grid-column:4;grid-row:3;">2.6%</div>
<div class="r w" style="grid-column:5;grid-row:3;">7.8%</div>
<div class="r w" style="grid-column:6;grid-row:3;">10.4%</div>
<div class="c w" style="grid-column:7;grid-row:3;">D</div>
<div class="c" style="grid-column:1;grid-row:4;background:#000;color:#fff;">2</div>
<div class="l b" style="grid-column:2;grid-row:4;">山口達弥</div>
<div class="l b" style="grid-column:3;grid-row:4;">50-66-43-482</div>
<div class="r b" style="grid-column:4;grid-row:4;">7.8%</div>
<div class="r b" style="grid-column:5;grid-row:4;">18.1%</div>
<div class="r b" style="grid-column:6;grid-row:4;">24.8%</div>
<div class="c b" style="grid-column:7;grid-row:4;">D</div>
<div class="c" style="grid-column:1;grid-row:5;background:#ea4335;color:#fff;">3</div>
<div class="l w" style="grid-column:2;grid-row:5;">仲野光馬</div>
<div class="l w" style="grid-column:3;grid-row:5;">22-21-30-299</div>
<div class="r w" style="grid-column:4;grid-row:5;background:#fde0d1;">5.9%</div>
<div class="r w" style="grid-column:5;grid-row:5;">11.6%</div>
<div class="r w" style="grid-column:6;grid-row:5;">19.6%</div>
<div class="c w" style="grid-column:7;grid-row:5;">C</div>
<div class="c" style="grid-column:1;grid-row:6;background:#4285f4;color:#fff;">4</div>
<div class="l b" style="grid-column:2;grid-row:6;">沢田龍哉</div>
<div class="l b" style="grid-column:3;grid-row:6;">51-56-62-306</div>
<div class="r b" style="grid-column:4;grid-row:6;">10.7%</div>
<div class="r b" style="grid-column:5;grid-row:6;">22.5%</div>
<div class="r b" style="grid-column:6;grid-row:6;">35.6%</div>
<div class="c b" style="grid-column:7;grid-row:6;">D</div>
<div class="c" style="grid-column:1;grid-row:7;background:#f4cc0c;color:#000;">5</div>
<div class="l w" style="grid-column:2;grid-row:7;">笠野雄大</div>
<div class="l w" style="grid-column:3;grid-row:7;">48-40-65-418</div>
<div class="r w" style="grid-column:4;grid-row:7;">8.4%</div>
<div class="r w" style="grid-column:5;grid-row:7;">15.4%</div>
<div class="r w" style="grid-column:6;grid-row:7;">26.8%</div>
<div class="c w" style="grid-column:7;grid-row:7;">D</div>
<div class="c" style="grid-column:1;grid-row:8;background:#f4cc0c;color:#000;">6</div>
<div class="l b" style="grid-column:2;grid-row:8;">張田昂</div>
<div class="l b" style="grid-column:3;grid-row:8;">109-84-69-347</div>
<div class="r b" style="grid-column:4;grid-row:8;">17.9%</div>
<div class="r b" style="grid-column:5;grid-row:8;">31.7%</div>
<div class="r b" style="grid-column:6;grid-row:8;">43.0%</div>
<div class="c b" style="grid-column:7;grid-row:8;">C</div>
<div class="c" style="grid-column:1;grid-row:9;background:#22a83a;color:#fff;">7</div>
<div class="l w" style="grid-column:2;grid-row:9;">山本聡紀</div>
<div class="l w" style="grid-column:3;grid-row:9;">18-32-28-289</div>
<div class="r w" style="grid-column:4;grid-row:9;background:#fde0d1;">4.9%</div>
<div class="r w" style="grid-column:5;grid-row:9;">13.6%</div>
<div class="r w" style="grid-column:6;grid-row:9;">21.3%</div>
<div class="c w" style="grid-column:7;grid-row:9;">C</div>
<div class="c" style="grid-column:1;grid-row:10;background:#22a83a;color:#fff;">8</div>
<div class="l b" style="grid-column:2;grid-row:10;">吉原寛人</div>
<div class="l b" style="grid-column:3;grid-row:10;">1-6-4-24</div>
<div class="r b" style="grid-column:4;grid-row:10;">2.9%</div>
<div class="r b" style="grid-column:5;grid-row:10;">20.0%</div>
<div class="r b" style="grid-column:6;grid-row:10;">31.4%</div>
<div class="c b" style="grid-column:7;grid-row:10;">D</div>
<div class="c" style="grid-column:1;grid-row:11;background:#e8961e;color:#fff;">9</div>
<div class="l w" style="grid-column:2;grid-row:11;">山本大</div>
<div class="l w" style="grid-column:3;grid-row:11;">1-2-0-12</div>
<div class="r w" style="grid-column:4;grid-row:11;background:#fde0d1;">6.7%</div>
<div class="r w" style="grid-column:5;grid-row:11;">20.0%</div>
<div class="r w" style="grid-column:6;grid-row:11;">20.0%</div>
<div class="c w" style="grid-column:7;grid-row:11;">D</div>
<div class="c" style="grid-column:1;grid-row:12;background:#e8961e;color:#fff;">10</div>
<div class="l b" style="grid-column:2;grid-row:12;">小杉亮</div>
<div class="l b" style="grid-column:3;grid-row:12;">36-49-55-365</div>
<div class="r b" style="grid-column:4;grid-row:12;">7.1%</div>
<div class="r b" style="grid-column:5;grid-row:12;">16.8%</div>
<div class="r b" style="grid-column:6;grid-row:12;">27.7%</div>
<div class="c b" style="grid-column:7;grid-row:12;">D</div>
<div class="c" style="grid-column:1;grid-row:13;background:#e0509a;color:#fff;">11</div>
<div class="l w" style="grid-column:2;grid-row:13;">本橋孝太</div>
<div class="l w" style="grid-column:3;grid-row:13;">64-77-66-403</div>
<div class="r w" style="grid-column:4;grid-row:13;">10.5%</div>
<div class="r w" style="grid-column:5;grid-row:13;">23.1%</div>
<div class="r w" style="grid-column:6;grid-row:13;">33.9%</div>
<div class="c w" style="grid-column:7;grid-row:13;">D</div>
<div class="c" style="grid-column:1;grid-row:14;background:#e0509a;color:#fff;">12</div>
<div class="l b" style="grid-column:2;grid-row:14;">岡村健司</div>
<div class="l b" style="grid-column:3;grid-row:14;">66-61-90-489</div>
<div class="r b" style="grid-column:4;grid-row:14;">9.3%</div>
<div class="r b" style="grid-column:5;grid-row:14;">18.0%</div>
<div class="r b" style="grid-column:6;grid-row:14;">30.7%</div>
<div class="c b" style="grid-column:7;grid-row:14;">D</div>
</div>
<div class="g" style="left:27px;top:2192px;grid-template-columns:40px 125px 167px 83px 83px 83px 82px;grid-template-rows:29px 29px 24px 23px 23px 23px 23px 24px 23px 23px 23px 23px 23px 24px;">
<div class="l w t" style="grid-column:1/span 7;grid-row:1/span 1;"><span><span class="bl">●</span>厩舎別成績　過去5年　頭数指定なし</span></div>
<div class="c hd s12 hs" style="grid-column:1;grid-row:2;">馬番</div>
<div class="c hd s12 hs" style="grid-column:2;grid-row:2;">厩舎</div>
<div class="c hd s12 hs" style="grid-column:3;grid-row:2;">着別度数</div>
<div class="c hd s12 hs" style="grid-column:4;grid-row:2;">勝率</div>
<div class="c hd s12 hs" style="grid-column:5;grid-row:2;">連対率</div>
<div class="c hd s12 hs" style="grid-column:6;grid-row:2;">複勝率</div>
<div class="c hd s12" style="grid-column:7;grid-row:2;">評価</div>
<div class="c" style="grid-column:1;grid-row:3;background:#f2f2f2;color:#000;">1</div>
<div class="l w" style="grid-column:2;grid-row:3;">川村守男</div>
<div class="l w" style="grid-column:3;grid-row:3;">0-1-2-52</div>
<div class="r w" style="grid-column:4;grid-row:3;">0.0%</div>
<div class="r w" style="grid-column:5;grid-row:3;">1.8%</div>
<div class="r w" style="grid-column:6;grid-row:3;">5.5%</div>
<div class="c w" style="grid-column:7;grid-row:3;">E</div>
<div class="c" style="grid-column:1;grid-row:4;background:#000;color:#fff;">2</div>
<div class="l b" style="grid-column:2;grid-row:4;">矢内博</div>
<div class="l b" style="grid-column:3;grid-row:4;">18-34-28-343</div>
<div class="r b" style="grid-column:4;grid-row:4;">4.3%</div>
<div class="r b" style="grid-column:5;grid-row:4;">12.3%</div>
<div class="r b" style="grid-column:6;grid-row:4;">18.9%</div>
<div class="c b" style="grid-column:7;grid-row:4;">D</div>
<div class="c" style="grid-column:1;grid-row:5;background:#ea4335;color:#fff;">3</div>
<div class="l w" style="grid-column:2;grid-row:5;">渋谷信博</div>
<div class="l w" style="grid-column:3;grid-row:5;">19-26-41-440</div>
<div class="r w" style="grid-column:4;grid-row:5;">3.6%</div>
<div class="r w" style="grid-column:5;grid-row:5;">8.6%</div>
<div class="r w" style="grid-column:6;grid-row:5;">16.3%</div>
<div class="c w" style="grid-column:7;grid-row:5;">D</div>
<div class="c" style="grid-column:1;grid-row:6;background:#4285f4;color:#fff;">4</div>
<div class="l b" style="grid-column:2;grid-row:6;">佐藤裕太</div>
<div class="l b" style="grid-column:3;grid-row:6;">81-72-47-297</div>
<div class="r b" style="grid-column:4;grid-row:6;">16.3%</div>
<div class="r b" style="grid-column:5;grid-row:6;">30.8%</div>
<div class="r b" style="grid-column:6;grid-row:6;">40.2%</div>
<div class="c b" style="grid-column:7;grid-row:6;">C</div>
<div class="c" style="grid-column:1;grid-row:7;background:#f4cc0c;color:#000;">5</div>
<div class="l w" style="grid-column:2;grid-row:7;">山中尊徳</div>
<div class="l w" style="grid-column:3;grid-row:7;">57-50-56-389</div>
<div class="r w" style="grid-column:4;grid-row:7;">10.3%</div>
<div class="r w" style="grid-column:5;grid-row:7;">19.4%</div>
<div class="r w" style="grid-column:6;grid-row:7;">29.5%</div>
<div class="c w" style="grid-column:7;grid-row:7;">D</div>
<div class="c" style="grid-column:1;grid-row:8;background:#f4cc0c;color:#000;">6</div>
<div class="l b" style="grid-column:2;grid-row:8;">小久保智</div>
<div class="l b" style="grid-column:3;grid-row:8;">9-8-7-86</div>
<div class="r b" style="grid-column:4;grid-row:8;background:#fde0d1;">8.2%</div>
<div class="r b" style="grid-column:5;grid-row:8;">15.5%</div>
<div class="r b" style="grid-column:6;grid-row:8;">21.8%</div>
<div class="c b" style="grid-column:7;grid-row:8;">C</div>
<div class="c" style="grid-column:1;grid-row:9;background:#22a83a;color:#fff;">7</div>
<div class="l w" style="grid-column:2;grid-row:9;">伊藤滋規</div>
<div class="l w" style="grid-column:3;grid-row:9;">21-42-57-472</div>
<div class="r w" style="grid-column:4;grid-row:9;">3.5%</div>
<div class="r w" style="grid-column:5;grid-row:9;">10.6%</div>
<div class="r w" style="grid-column:6;grid-row:9;">20.3%</div>
<div class="c w" style="grid-column:7;grid-row:9;">D</div>
<div class="c" style="grid-column:1;grid-row:10;background:#22a83a;color:#fff;">8</div>
<div class="l b" style="grid-column:2;grid-row:10;">矢野義幸</div>
<div class="l b" style="grid-column:3;grid-row:10;">59-76-80-473</div>
<div class="r b" style="grid-column:4;grid-row:10;">8.6%</div>
<div class="r b" style="grid-column:5;grid-row:10;">19.6%</div>
<div class="r b" style="grid-column:6;grid-row:10;">31.3%</div>
<div class="c b" style="grid-column:7;grid-row:10;">D</div>
<div class="c" style="grid-column:1;grid-row:11;background:#e8961e;color:#fff;">9</div>
<div class="l w" style="grid-column:2;grid-row:11;">伊藤滋規</div>
<div class="l w" style="grid-column:3;grid-row:11;">21-42-57-472</div>
<div class="r w" style="grid-column:4;grid-row:11;">3.5%</div>
<div class="r w" style="grid-column:5;grid-row:11;">10.6%</div>
<div class="r w" style="grid-column:6;grid-row:11;">20.3%</div>
<div class="c w" style="grid-column:7;grid-row:11;">D</div>
<div class="c" style="grid-column:1;grid-row:12;background:#e8961e;color:#fff;">10</div>
<div class="l b" style="grid-column:2;grid-row:12;">石井勝男</div>
<div class="l b" style="grid-column:3;grid-row:12;">40-68-58-460</div>
<div class="r b" style="grid-column:4;grid-row:12;">6.4%</div>
<div class="r b" style="grid-column:5;grid-row:12;">17.3%</div>
<div class="r b" style="grid-column:6;grid-row:12;">26.5%</div>
<div class="c b" style="grid-column:7;grid-row:12;">D</div>
<div class="c" style="grid-column:1;grid-row:13;background:#e0509a;color:#fff;">11</div>
<div class="l w" style="grid-column:2;grid-row:13;">石井勝男</div>
<div class="l w" style="grid-column:3;grid-row:13;">40-68-58-460</div>
<div class="r w" style="grid-column:4;grid-row:13;">6.4%</div>
<div class="r w" style="grid-column:5;grid-row:13;">17.3%</div>
<div class="r w" style="grid-column:6;grid-row:13;">26.5%</div>
<div class="c w" style="grid-column:7;grid-row:13;">D</div>
<div class="c" style="grid-column:1;grid-row:14;background:#e0509a;color:#fff;">12</div>
<div class="l b" style="grid-column:2;grid-row:14;">齊藤敏</div>
<div class="l b" style="grid-column:3;grid-row:14;">72-104-116-722</div>
<div class="r b" style="grid-column:4;grid-row:14;">7.1%</div>
<div class="r b" style="grid-column:5;grid-row:14;">17.4%</div>
<div class="r b" style="grid-column:6;grid-row:14;">28.8%</div>
<div class="c b" style="grid-column:7;grid-row:14;">D</div>
</div>
</body></html>
